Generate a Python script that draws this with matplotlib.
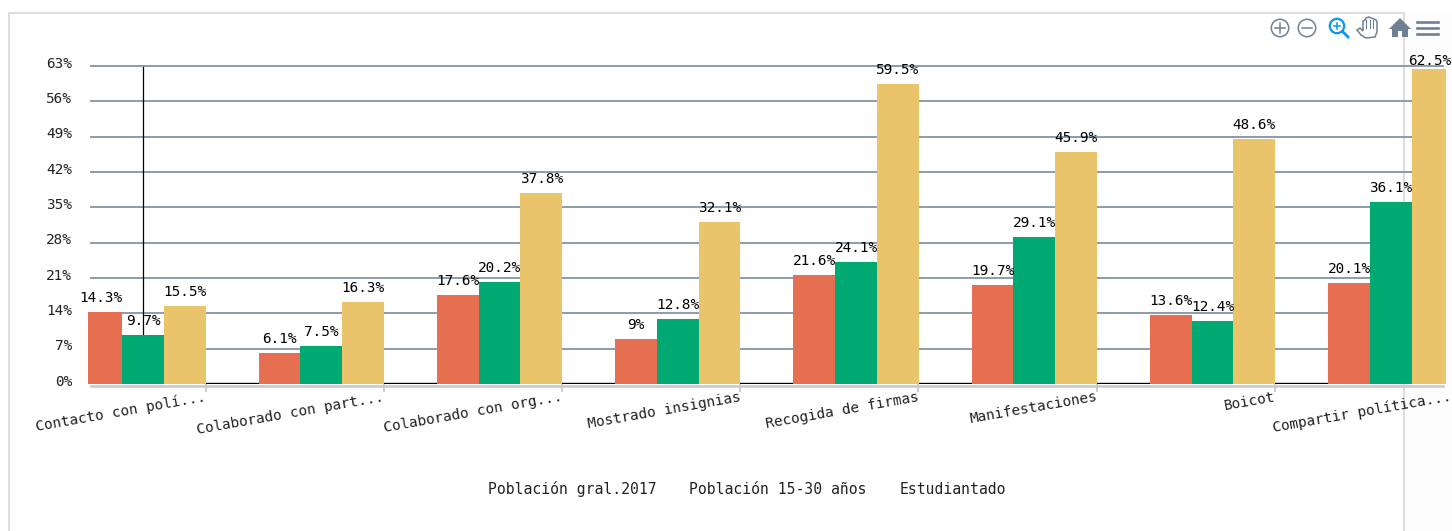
import matplotlib

matplotlib.use("Agg")

import matplotlib.pyplot as plt
from matplotlib.patches import Circle, Polygon, Rectangle
from matplotlib.transforms import ScaledTranslation

W, H = 1452, 531
FONT = "DejaVu Sans Mono"

categories = [
    "Contacto con polí...",
    "Colaborado con part...",
    "Colaborado con org...",
    "Mostrado insignias",
    "Recogida de firmas",
    "Manifestaciones",
    "Boicot",
    "Compartir política...",
]
poblacion_gral = [14.3, 6.1, 17.6, 9, 21.6, 19.7, 13.6, 20.1]
poblacion_joven = [9.7, 7.5, 20.2, 12.8, 24.1, 29.1, 12.4, 36.1]
estudiantado = [15.5, 16.3, 37.8, 32.1, 59.5, 45.9, 48.6, 62.5]
y_ticks = [0, 7, 14, 21, 28, 35, 42, 49, 56, 63]
legend_labels = ["Población gral.2017", "Población 15-30 años", "Estudiantado"]

series = [poblacion_gral, poblacion_joven, estudiantado]
colors = ["#E76F51", "#00A971", "#E9C46A"]
GRID = "#8C9CA8"
ICON = "#6E8192"
BLUE = "#0A95F0"

STEP = 178.25  # px per category
X0 = 143
BAR = 41.7 / STEP
PT = 0.72  # points per px at dpi 100

fig = plt.figure(figsize=(W / 100, H / 100), dpi=100, facecolor="white")

# page frame and toolbar live in a pixel-coordinate axes
deco = fig.add_axes([0, 0, 1, 1], zorder=0)
deco.set_xlim(0, W)
deco.set_ylim(H, 0)
deco.axis("off")
deco.add_patch(Rectangle((1404, 13), 48, H, color="#FDFDFD", lw=0))
deco.plot([8.5, 8.5, 1403.5, 1403.5], [H, 12.5, 12.5, H], color="#DEDEDE", lw=1.5)


def draw_toolbar(a):
    for cx in (1280, 1307):
        a.add_patch(Circle((cx, 28), 8.7, fill=False, ec=ICON, lw=1.1))
        a.plot([cx - 5, cx + 5], [28, 28], color=ICON, lw=1.1)
    a.plot([1280, 1280], [23, 33], color=ICON, lw=1.1)
    a.add_patch(Circle((1337, 26), 7.2, fill=False, ec=BLUE, lw=1.6))
    a.plot([1342.5, 1348], [31.5, 37], color=BLUE, lw=2)
    a.plot([1334, 1340], [26, 26], color=BLUE, lw=1.1)
    a.plot([1337, 1337], [23, 29], color=BLUE, lw=1.1)
    hand = [
        (1357, 30), (1360, 28), (1363, 31), (1363, 21), (1365, 20), (1366, 18),
        (1369, 17), (1371, 18), (1374, 19), (1376, 20), (1377, 22),
        (1377, 32), (1375, 37), (1366, 38), (1361, 35),
    ]
    a.add_patch(Polygon(hand, closed=True, fill=False, ec=ICON, lw=1.1))
    for fx in (1366, 1369.5, 1373):
        a.plot([fx, fx], [20, 28], color=ICON, lw=0.8)
    a.add_patch(Polygon([(1389, 29), (1400, 18), (1411, 29), (1408, 29), (1408, 37),
                         (1392, 37), (1392, 29)], closed=True, color=ICON, lw=0, zorder=3))
    a.add_patch(Rectangle((1398, 31), 4, 6, color="white", lw=0, zorder=4))
    for hy in (22, 28, 34):
        a.plot([1417, 1438], [hy, hy], color=ICON, lw=1.9)


draw_toolbar(deco)
deco.plot([91, 1443], [385.5, 385.5], color="#C8C8C8", lw=1.8)

ax = fig.add_axes([88 / W, 1 - 384 / H, (1446 - 88) / W, (384 - 66) / H], zorder=1)
ax.patch.set_alpha(0)
ax.set_xlim((88 - X0) / STEP, (1446 - X0) / STEP)
ax.set_ylim(0, 63)
for s in ax.spines.values():
    s.set_visible(False)

for v in y_ticks:
    if v > 0:
        ax.axhline(v, xmin=3 / 1358, xmax=1355 / 1358, color=GRID, lw=1.4, zorder=1, clip_on=False)
ax.plot([0, 0], [0, 62.8], color="black", lw=0.9, zorder=2)
ax.plot([0, 7.0], [0.1, 0.1], color="black", lw=1, zorder=2)

for k, (vals, c) in enumerate(zip(series, colors)):
    xs = [i + (k - 1) * BAR for i in range(len(vals))]
    ax.bar(xs, vals, width=BAR, color=c, zorder=3)
    for x, v in zip(xs, vals):
        # labels near the top edge get pushed down, last one kept inside the page
        dx, dy = (-3, 1) if v > 60 else (0, 7)
        ax.annotate(f"{v}%", (x, v), xytext=(dx * PT, dy * PT), textcoords="offset points",
                    ha="center", va="bottom", fontsize=10.4, family=FONT,
                    color="black", zorder=5, annotation_clip=False)

ax.set_yticks(y_ticks)
ax.set_yticklabels([f"{v}%" for v in y_ticks], fontsize=10.4, family=FONT, color="#222222")
ax.tick_params(axis="y", length=0, pad=11.5)
for lab in ax.get_yticklabels():
    lab.set_transform(lab.get_transform() + ScaledTranslation(0, 4 / 100, fig.dpi_scale_trans))

tick_x = [i + 62.5 / STEP for i in range(len(categories))]
ax.set_xticks(tick_x[:-1])
ax.set_xticklabels([])
ax.tick_params(axis="x", length=5.5, width=1.3, color="#C8C8C8", pad=0)

for i, (x, label) in enumerate(zip(tick_x, categories)):
    dx = -1 if i == len(categories) - 1 else 1
    ax.annotate(label, (x, 0), xytext=(dx * PT, -17 * PT), textcoords="offset points",
                ha="right", va="baseline", rotation=10, rotation_mode="anchor",
                fontsize=10.4, family=FONT, color="#222222", annotation_clip=False)

for x, label in zip((488, 689, 900), legend_labels):
    fig.text(x / W, 1 - 494 / H, label, ha="left", va="baseline",
             fontsize=10.6, family=FONT, color="#222222")

fig.savefig("out.png", dpi=100)
plt.close(fig)
